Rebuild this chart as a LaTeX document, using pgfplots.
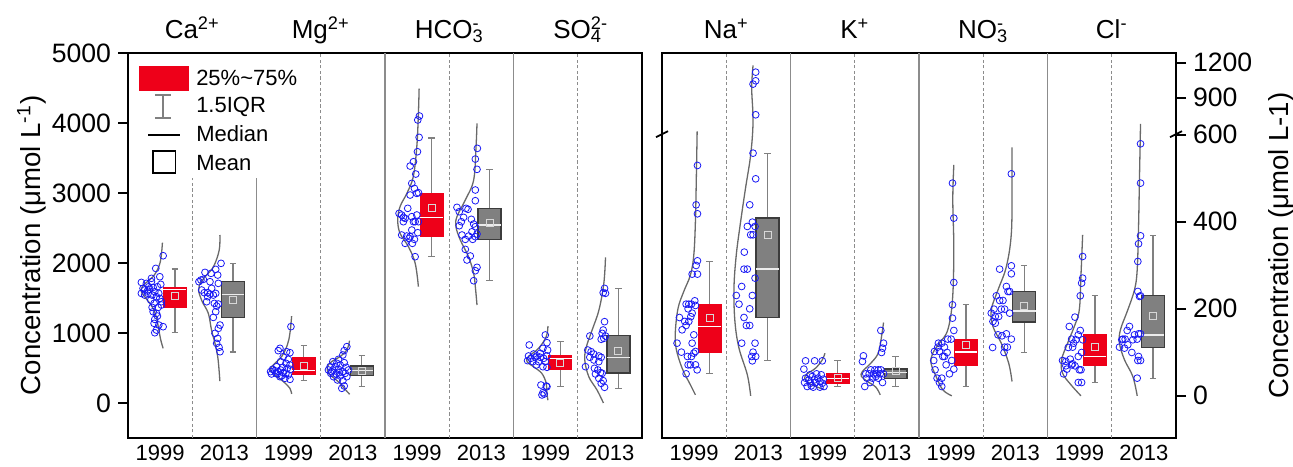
\documentclass[border=0pt]{standalone}
\usepackage{fontspec}
\setmainfont{Liberation Sans}
\usepackage{pgfplots}
\pgfplotsset{compat=1.18}

\definecolor{boxred}{RGB}{238,0,25}
\definecolor{boxgray}{RGB}{128,128,128}
\definecolor{boxedge}{RGB}{60,60,60}
\definecolor{whisk}{RGB}{128,128,128}
\definecolor{curvec}{RGB}{105,105,105}
\definecolor{ptblue}{RGB}{25,25,245}
\definecolor{sepc}{RGB}{140,140,140}
\definecolor{meanc}{RGB}{215,215,215}

\newcommand\legfont{\fontsize{11}{13}\selectfont}
\newcommand\titfont{\fontsize{13}{15}\selectfont}

\tikzset{
  sepsolid/.style={draw=sepc, line width=0.6pt},
  sepdash/.style={draw=sepc, line width=0.5pt, dash pattern=on 1.6pt off 1.2pt},
}

\pgfplotsset{
  panel/.style={
    scale only axis, width=257pt, height=192.5pt,
    xmin=0, xmax=8, clip=false,
    axis line style={line width=1pt},
    tick align=outside, major tick length=5pt,
    every tick/.style={black, line width=0.8pt},
    xtick={0.5,1.5,2.5,3.5,4.5,5.5,6.5,7.5},
    xticklabels={1999,2013,1999,2013,1999,2013,1999,2013},
    x tick style={draw=none},
    x tick label style={font=\fontsize{11}{13}\selectfont, yshift=5pt},
    y tick label style={font=\fontsize{13.3}{15}\selectfont},
    label style={font=\fontsize{13.8}{16}\selectfont},
  },
  dist/.style={draw=curvec, line width=0.65pt, smooth, tension=0.6, no markers},
  pts/.style={only marks, mark=o, mark size=1.7pt, draw=ptblue,
    mark options={line width=0.4pt}},
  redbox/.style={fill=boxred, draw=boxred, line width=0.6pt},
  graybox/.style={fill=boxgray, draw=boxedge, line width=0.7pt},
  redmed/.style={draw=white, line width=0.7pt},
  graymed/.style={draw=white!85!gray, line width=0.7pt},
}

% box: #1 position, #2 lower whisker, #3 Q1, #4 median, #5 Q3, #6 upper whisker, #7 mean, #8 red/gray
\newcommand\bx[8]{%
  \pgfmathsetmacro\xl{#1-0.1775}\pgfmathsetmacro\xr{#1+0.1775}%
  \pgfmathsetmacro\cl{#1-0.05}\pgfmathsetmacro\cr{#1+0.05}%
  \edef\tmp{\noexpand\addplot[whisk, line width=0.6pt, unbounded coords=jump, no markers]
    coordinates {(#1,#5) (#1,#6) (#1,nan) (\cl,#6) (\cr,#6) (#1,nan) (#1,#3) (#1,#2) (#1,nan) (\cl,#2) (\cr,#2)};}\tmp
  \edef\tmp{\noexpand\addplot[#8box] coordinates {(\xl,#3) (\xr,#3) (\xr,#5) (\xl,#5)} -- cycle;}\tmp
  \edef\tmp{\noexpand\addplot[#8med, no markers] coordinates {(\xl,#4) (\xr,#4)};}\tmp
  \addplot[only marks, mark=square, mark size=1.75pt, draw=meanc, mark options={line width=0.5pt}] coordinates {(#1,#7)};
}

\begin{document}
\begin{tikzpicture}
\useasboundingbox (0,0) rectangle (646.5pt,-233pt);

% ---------------- left panel ----------------
\begin{axis}[panel, at={(64pt,-219pt)}, anchor=south west,
  ymin=-500, ymax=5000,
  ytick={0,1000,2000,3000,4000,5000},
  yticklabels={0,1000,2000,3000,4000,5000},
  ytick pos=left,
  ylabel={Concentration (μmol L\textsuperscript{-1})},
  ylabel style={at={(axis description cs:-0.187,0.5)}, anchor=center},
]
\draw[sepdash] (axis cs:1,-500) -- (axis cs:1,3214);
\draw[sepsolid] (axis cs:2,-500) -- (axis cs:2,3214);
\draw[sepdash] (axis cs:3,-500) -- (axis cs:3,5000);
\draw[sepsolid] (axis cs:4,-500) -- (axis cs:4,5000);
\draw[sepdash] (axis cs:5,-500) -- (axis cs:5,5000);
\draw[sepsolid] (axis cs:6,-500) -- (axis cs:6,5000);
\draw[sepdash] (axis cs:7,-500) -- (axis cs:7,5000);

% Ca2+
\addplot[dist] coordinates {(0.536,2290) (0.516,2090) (0.48,1948) (0.39,1805) (0.27,1710) (0.20,1614) (0.26,1519) (0.375,1376) (0.44,1233) (0.48,1043) (0.51,900) (0.547,781)};
\addplot[pts] coordinates {(0.547,2104) (0.432,1923) (0.365,1781) (0.495,1804) (0.208,1723) (0.286,1709) (0.365,1733) (0.323,1661) (0.391,1652) (0.234,1638) (0.260,1614) (0.302,1600) (0.339,1623) (0.417,1590) (0.479,1566) (0.510,1695) (0.208,1566) (0.313,1566) (0.375,1542) (0.443,1519) (0.495,1495) (0.521,1447) (0.406,1423) (0.469,1366) (0.375,1366) (0.391,1304) (0.443,1281) (0.521,1400) (0.458,1242) (0.417,1195) (0.406,1138) (0.479,1114) (0.547,1090) (0.443,1042) (0.417,1004) (0.260,1542) (0.354,1471) (0.458,1661)};
\bx{0.73}{1005}{1362}{1620}{1653}{1914}{1533}{red}
\addplot[dist] coordinates {(1.43,2400) (1.42,2185) (1.33,1947) (1.20,1804) (1.11,1685) (1.10,1600) (1.156,1447) (1.25,1281) (1.30,1042) (1.354,852) (1.40,638) (1.43,314)};
\addplot[pts] coordinates {(1.448,1995) (1.365,1909) (1.198,1866) (1.396,1828) (1.135,1757) (1.172,1766) (1.276,1733) (1.406,1709) (1.104,1733) (1.302,1638) (1.240,1576) (1.188,1576) (1.276,1557) (1.328,1542) (1.365,1566) (1.240,1519) (1.406,1414) (1.344,1423) (1.380,1385) (1.365,1304) (1.328,1223) (1.432,1114) (1.406,1066) (1.354,995) (1.396,923) (1.380,852) (1.417,795) (1.432,733) (1.224,1447) (1.292,1852) (1.146,1614)};
\bx{1.635}{728}{1219}{1552}{1733}{1990}{1466}{gray}

% Mg2+
\addplot[dist] coordinates {(2.547,1240) (2.52,996) (2.48,829) (2.39,662) (2.26,543) (2.21,472) (2.29,400) (2.42,305) (2.52,210) (2.547,129)};
\addplot[pts] coordinates {(2.536,1091) (2.365,781) (2.339,748) (2.469,733) (2.521,719) (2.417,662) (2.495,624) (2.375,591) (2.458,567) (2.521,543) (2.313,519) (2.406,510) (2.479,495) (2.25,481) (2.286,462) (2.339,448) (2.375,472) (2.219,448) (2.302,424) (2.417,434) (2.495,400) (2.365,376) (2.443,353) (2.521,338) (2.323,415) (2.458,424) (2.391,386) (2.234,415) (2.531,481)};
\bx{2.735}{322}{405}{465}{653}{825}{535}{red}
\addplot[dist] coordinates {(3.448,891) (3.406,757) (3.30,662) (3.17,591) (3.104,519) (3.12,424) (3.21,353) (3.30,281) (3.365,210) (3.45,124)};
\addplot[pts] coordinates {(3.365,748) (3.406,805) (3.344,686) (3.276,624) (3.188,591) (3.25,567) (3.365,576) (3.302,543) (3.146,519) (3.224,519) (3.396,510) (3.12,472) (3.188,472) (3.276,481) (3.344,448) (3.156,424) (3.24,415) (3.38,424) (3.302,386) (3.198,376) (3.406,376) (3.26,329) (3.344,319) (3.365,243) (3.328,210) (3.172,448) (3.292,434) (3.432,472)};
\bx{3.64}{234}{390}{462}{530}{674}{460}{gray}

% HCO3-
\addplot[dist] coordinates {(4.531,4490) (4.52,4138) (4.495,3662) (4.44,3233) (4.34,2995) (4.234,2805) (4.198,2614) (4.234,2424) (4.365,2233) (4.47,1995) (4.52,1662)};
\addplot[pts] coordinates {(4.536,4100) (4.51,4043) (4.531,3795) (4.505,3590) (4.443,3447) (4.391,3385) (4.479,3271) (4.417,3138) (4.458,3066) (4.391,2971) (4.495,2995) (4.521,3004) (4.354,2781) (4.219,2709) (4.26,2686) (4.286,2652) (4.313,2638) (4.417,2662) (4.495,2686) (4.469,2590) (4.521,2590) (4.443,2590) (4.286,2590) (4.417,2471) (4.51,2433) (4.26,2400) (4.339,2385) (4.391,2376) (4.375,2352) (4.458,2338) (4.313,2281) (4.427,2281) (4.469,2090)};
\bx{4.727}{2095}{2385}{2652}{2990}{3786}{2786}{red}
\addplot[dist] coordinates {(5.432,3995) (5.417,3662) (5.38,3186) (5.25,2900) (5.12,2662) (5.104,2519) (5.172,2329) (5.30,2090) (5.38,1852) (5.406,1662) (5.432,1400)};
\addplot[pts] coordinates {(5.4375,3638) (5.406,3485) (5.432,3338) (5.406,3043) (5.406,2890) (5.12,2795) (5.156,2733) (5.26,2781) (5.292,2767) (5.224,2652) (5.188,2590) (5.344,2624) (5.156,2533) (5.38,2557) (5.406,2519) (5.354,2447) (5.432,2414) (5.198,2400) (5.302,2385) (5.365,2338) (5.25,2338) (5.406,2376) (5.25,2195) (5.328,2100) (5.276,2043) (5.432,1938) (5.406,1890) (5.38,1747)};
\bx{5.628}{1747}{2338}{2543}{2776}{3338}{2566}{gray}

% SO4 2-
\addplot[dist] coordinates {(6.536,1100) (6.51,948) (6.39,781) (6.234,662) (6.21,591) (6.31,519) (6.44,424) (6.51,281) (6.52,138) (6.536,40)};
\addplot[pts] coordinates {(6.245,829) (6.495,972) (6.521,862) (6.458,781) (6.531,757) (6.417,710) (6.313,700) (6.234,672) (6.365,672) (6.271,638) (6.339,653) (6.417,653) (6.469,638) (6.521,672) (6.219,605) (6.302,591) (6.391,591) (6.495,591) (6.354,543) (6.458,519) (6.521,510) (6.427,257) (6.51,243) (6.458,148) (6.479,129) (6.443,115) (6.521,233)};
\bx{6.729}{238}{481}{638}{681}{881}{576}{red}
\addplot[dist] coordinates {(7.432,2081) (7.406,1710) (7.33,1329) (7.224,1043) (7.135,805) (7.109,615) (7.172,376) (7.30,186) (7.40,0)};
\addplot[pts] coordinates {(7.417,1638) (7.396,1576) (7.432,1567) (7.417,1162) (7.396,1043) (7.38,995) (7.432,957) (7.406,924) (7.365,910) (7.188,957) (7.156,757) (7.208,733) (7.25,700) (7.328,672) (7.365,653) (7.188,653) (7.25,615) (7.328,591) (7.12,519) (7.26,496) (7.313,472) (7.354,434) (7.276,415) (7.38,424) (7.328,352) (7.396,319) (7.365,281) (7.417,224)};
\bx{7.633}{210}{429}{653}{967}{1634}{748}{gray}

% titles
\node[anchor=base, font=\titfont] at ([yshift=7.5pt]axis cs:1,5000) {Ca\textsuperscript{2+}};
\node[anchor=base, font=\titfont] at ([yshift=7.5pt]axis cs:3,5000) {Mg\textsuperscript{2+}};
\node[anchor=base, font=\titfont] at ([yshift=7.5pt]axis cs:5,5000) {HCO\rlap{\textsuperscript{-}}\textsubscript{3}};
\node[anchor=base, font=\titfont] at ([yshift=7.5pt]axis cs:7,5000) {SO\rlap{\textsuperscript{2-}}\textsubscript{4}};

% legend
\fill[boxred] (rel axis cs:0.021,0.901) rectangle (rel axis cs:0.119,0.966);
\node[anchor=west, font=\legfont, inner sep=0pt] at (rel axis cs:0.132,0.935) {25\%\textasciitilde75\%};
\draw[whisk, line width=0.6pt] (rel axis cs:0.068,0.831) -- (rel axis cs:0.068,0.891);
\draw[whisk, line width=0.6pt] ([xshift=-4pt]rel axis cs:0.068,0.891) -- ([xshift=4pt]rel axis cs:0.068,0.891);
\draw[whisk, line width=0.6pt] ([xshift=-4pt]rel axis cs:0.068,0.831) -- ([xshift=4pt]rel axis cs:0.068,0.831);
\node[anchor=west, font=\legfont, inner sep=0pt] at (rel axis cs:0.132,0.860) {1.5IQR};
\draw[black, line width=0.6pt] (rel axis cs:0.039,0.787) -- (rel axis cs:0.101,0.787);
\node[anchor=west, font=\legfont, inner sep=0pt] at (rel axis cs:0.132,0.790) {Median};
\draw[black, line width=0.7pt] (rel axis cs:0.049,0.688) rectangle (rel axis cs:0.092,0.745);
\node[anchor=west, font=\legfont, inner sep=0pt] at (rel axis cs:0.132,0.714) {Mean};
\end{axis}

% ---------------- right panel ----------------
\begin{axis}[panel, at={(331pt,-219pt)}, anchor=south west,
  ymin=-97, ymax=788,
  ytick={0,200,400,600,685,765.5},
  yticklabels={0,200,400,600,900,1200},
  ytick pos=right, yticklabel pos=right,
  ylabel={Concentration (μmol L-1)},
  ylabel style={at={(axis description cs:1.2047,0.5)}, anchor=center},
]
\draw[sepdash] (axis cs:1,-97) -- (axis cs:1,788);
\draw[sepsolid] (axis cs:2,-97) -- (axis cs:2,788);
\draw[sepdash] (axis cs:3,-97) -- (axis cs:3,788);
\draw[sepsolid] (axis cs:4,-97) -- (axis cs:4,788);
\draw[sepdash] (axis cs:5,-97) -- (axis cs:5,788);
\draw[sepsolid] (axis cs:6,-97) -- (axis cs:6,788);
\draw[sepdash] (axis cs:7,-97) -- (axis cs:7,788);

% Na+ (values above 600 on the compressed scale)
\addplot[dist] coordinates {(0.547,607.6) (0.536,515.7) (0.52,400.8) (0.495,324) (0.443,278) (0.339,240) (0.25,201.5) (0.208,148) (0.219,109.5) (0.3125,63.6) (0.443,25) (0.52,2.3)};
\addplot[pts] coordinates {(0.552,529.5) (0.531,439) (0.552,418.4) (0.552,310.3) (0.531,299.6) (0.469,279.7) (0.552,279.7) (0.51,218.4) (0.375,210.7) (0.417,210.7) (0.458,210.7) (0.406,200) (0.521,207.7) (0.469,190) (0.271,180) (0.354,171) (0.417,171) (0.448,182) (0.3125,151.7) (0.375,161.7) (0.495,140.2) (0.234,121) (0.469,121) (0.302,100.4) (0.521,102) (0.495,98) (0.396,90.4) (0.458,90.4) (0.443,71.2) (0.521,71.2) (0.406,71.2) (0.547,59.7) (0.375,50.5)};
\bx{0.74}{50.5}{99.6}{159.4}{210.7}{308.8}{178.5}{red}
\addplot[dist] coordinates {(1.417,759.4) (1.396,707.3) (1.417,630.6) (1.38,554) (1.30,477.4) (1.224,400.8) (1.156,324) (1.12,247.5) (1.135,170.9) (1.198,109.6) (1.328,48.3) (1.38,0)};
\addplot[pts] coordinates {(1.458,744) (1.417,716.5) (1.458,724.1) (1.458,646) (1.417,557.8) (1.458,498.8) (1.365,439) (1.406,399.2) (1.328,389.3) (1.448,389.3) (1.38,370.1) (1.417,370.1) (1.281,330.3) (1.276,291.2) (1.328,291.2) (1.448,270.5) (1.24,251.3) (1.156,230.6) (1.406,230.6) (1.198,210.7) (1.365,200) (1.276,180) (1.3125,161.7) (1.365,161.7) (1.24,121) (1.448,121) (1.417,100.4) (1.396,90.4) (1.458,90.4) (1.406,80.4)};
\bx{1.643}{80.4}{180}{291.2}{408.4}{557.8}{370.1}{gray}

% K+
\addplot[dist] coordinates {(2.536,98) (2.495,82.7) (2.39,63.6) (2.26,50.5) (2.22,40.6) (2.286,29) (2.417,19.9) (2.52,15)};
\addplot[pts] coordinates {(2.234,80.4) (2.375,80.4) (2.495,80.4) (2.208,61.3) (2.234,40.6) (2.286,36.8) (2.339,44.4) (2.406,50.5) (2.479,48.3) (2.3125,29) (2.391,30.6) (2.458,32.9) (2.521,21.4) (2.26,21.4) (2.354,19.9) (2.427,40.6) (2.495,29) (2.302,48.3) (2.219,30.6) (2.51,38.3) (2.375,36.8) (2.323,23) (2.458,19.9)};
\bx{2.734}{20.7}{29}{39.8}{50.5}{80.4}{40.6}{red}
\addplot[dist] coordinates {(3.448,168.5) (3.417,136.4) (3.365,98) (3.25,75) (3.12,55.9) (3.104,44.4) (3.198,32.9) (3.328,19.9) (3.396,2.3)};
\addplot[pts] coordinates {(3.406,150.2) (3.448,121) (3.432,109.6) (3.417,99.6) (3.135,91.9) (3.12,78.9) (3.25,59.7) (3.3125,59.7) (3.365,59.7) (3.406,59.7) (3.172,50.5) (3.224,50.5) (3.292,50.5) (3.344,50.5) (3.396,50.5) (3.448,50.5) (3.188,40.6) (3.276,40.6) (3.365,40.6) (3.432,30.6) (3.24,30.6) (3.156,21.4) (3.328,44.4)};
\bx{3.636}{20.7}{39.8}{53.6}{61.3}{90.4}{55.9}{gray}

% NO3-
\addplot[dist] coordinates {(4.542,531) (4.526,450.6) (4.542,335.6) (4.521,220.6) (4.448,151.7) (4.318,121) (4.214,98) (4.1875,75) (4.266,44.4) (4.37,13.8) (4.51,0)};
\addplot[pts] coordinates {(4.521,488.9) (4.542,408.4) (4.542,260.5) (4.521,209.2) (4.521,178.5) (4.542,150.2) (4.448,130.3) (4.5,130.3) (4.354,121) (4.292,111.9) (4.396,111.9) (4.24,101.9) (4.318,101.9) (4.4375,99.6) (4.37,90.4) (4.51,81.2) (4.229,81.2) (4.422,71.2) (4.542,61.3) (4.25,59.7) (4.474,50.5) (4.281,40.6) (4.354,40.6) (4.318,30.6) (4.354,21.4) (4.396,90.4) (4.302,121)};
\bx{4.73}{21.4}{69.7}{100.3}{130.3}{209.2}{115.7}{red}
\addplot[dist] coordinates {(5.448,570.9) (5.448,488.9) (5.4375,374) (5.36,297.3) (5.23,243.6) (5.125,197.7) (5.151,159.4) (5.28,121) (5.396,75) (5.448,32.9)};
\addplot[pts] coordinates {(5.4375,510.3) (5.255,291.2) (5.4375,298.8) (5.4375,280.5) (5.36,251.3) (5.411,239.8) (5.385,239.8) (5.203,229.9) (5.255,219.1) (5.307,219.1) (5.167,199.2) (5.281,199.2) (5.333,199.2) (5.411,190) (5.125,190) (5.1875,182.3) (5.24,182.3) (5.151,170.9) (5.36,142.5) (5.229,140.2) (5.292,137.9) (5.4375,130.3) (5.146,111.1) (5.333,111.9) (5.375,111.9) (5.323,99.6) (5.1875,167)};
\bx{5.636}{100.3}{169.3}{195.4}{239.8}{299.6}{206.9}{gray}

% Cl-
\addplot[dist] coordinates {(6.547,370.1) (6.52,274.4) (6.495,197.7) (6.417,159.4) (6.3125,121) (6.219,82.8) (6.234,52.1) (6.365,25.3) (6.52,0)};
\addplot[pts] coordinates {(6.547,320.3) (6.547,270.5) (6.531,259) (6.51,229.9) (6.427,180.9) (6.339,159.4) (6.51,150.2) (6.479,140.2) (6.375,130.3) (6.443,128.8) (6.547,128.8) (6.406,121) (6.323,111.1) (6.531,99.6) (6.391,111.9) (6.479,90.4) (6.354,84.3) (6.234,81.2) (6.286,79) (6.391,73.6) (6.427,69) (6.302,61.3) (6.25,50.5) (6.495,59.7) (6.521,59.7) (6.375,71.2) (6.479,30.6) (6.531,30.6) (6.286,69)};
\bx{6.74}{30.6}{69}{90.4}{141.8}{229.9}{111.9}{red}
\addplot[dist] coordinates {(7.448,625.3) (7.432,504.2) (7.417,389.3) (7.396,289.7) (7.354,243.7) (7.25,197.7) (7.135,151.7) (7.12,121) (7.198,82.8) (7.328,44.4) (7.396,0)};
\addplot[pts] coordinates {(7.448,579.3) (7.448,488.9) (7.448,367.8) (7.417,349.5) (7.406,308.8) (7.406,239.9) (7.448,229.9) (7.432,228.4) (7.276,159.4) (7.24,150.2) (7.417,142.5) (7.354,140.2) (7.448,142.5) (7.156,128.8) (7.328,128.8) (7.396,130.3) (7.198,109.6) (7.25,117.3) (7.12,111.9) (7.172,130.3) (7.3125,99.6) (7.417,90.4) (7.406,81.2) (7.448,81.2) (7.396,40.6) (7.208,130.3)};
\bx{7.643}{40.6}{111.1}{140.2}{229.9}{368.6}{182.4}{gray}

% axis break marks at 600
\draw[black, line width=0.9pt] ([xshift=-3pt,yshift=-1.2pt]axis cs:0,600) -- ([xshift=3pt,yshift=1.8pt]axis cs:0,600);
\draw[black, line width=0.9pt] ([xshift=-3pt,yshift=-1.2pt]axis cs:8,600) -- ([xshift=3pt,yshift=1.8pt]axis cs:8,600);

% titles
\node[anchor=base, font=\titfont] at ([yshift=7.5pt]axis cs:1,788) {Na\textsuperscript{+}};
\node[anchor=base, font=\titfont] at ([yshift=7.5pt]axis cs:3,788) {K\textsuperscript{+}};
\node[anchor=base, font=\titfont] at ([yshift=7.5pt]axis cs:5,788) {NO\rlap{\textsuperscript{-}}\textsubscript{3}};
\node[anchor=base, font=\titfont] at ([yshift=7.5pt]axis cs:7,788) {Cl\textsuperscript{-}};
\end{axis}
\end{tikzpicture}
\end{document}
